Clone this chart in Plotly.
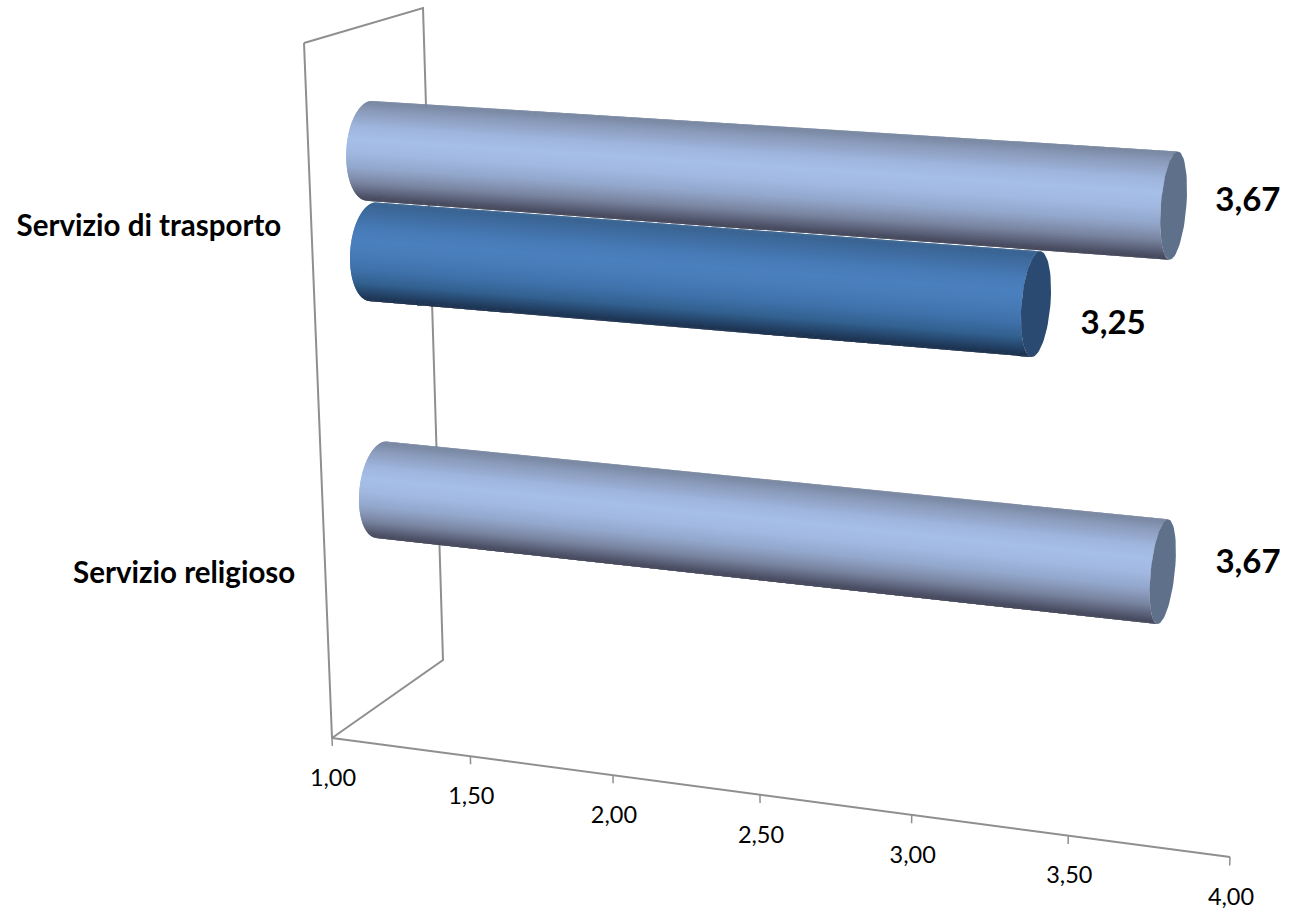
import numpy as np
import plotly.graph_objects as go

# ---- data ----
categories = ["Servizio religioso", "Servizio di trasporto"]
series_light = [3.67, 3.67]
series_dark = [None, 3.25]
tick_values = [1.0, 1.5, 2.0, 2.5, 3.0, 3.5, 4.0]
axis_min, axis_max = 1.0, 4.0

# ---- view: projective map of the 3D chart box onto the page ----
W, H = 1289, 910
O = np.array([332.0, 738.0])
A = np.array([1230.0, 857.0])
B = np.array([443.0, 660.0])
C = np.array([304.0, 43.0])
E = np.array([423.0, 8.0])
ka = -0.0893
M = np.array([[B[0]-E[0], C[0]-E[0]], [B[1]-E[1], C[1]-E[1]]])
kb, kc = np.linalg.solve(M, O + E - B - C)
Av = A*(1+ka) - O
Bv = B*(1+kb) - O
Cv = C*(1+kc) - O


def project(value, w, h):
    u = (np.asarray(value, float) - axis_min)/(axis_max - axis_min)
    w = np.asarray(w, float)
    h = np.asarray(h, float)
    d = 1 + ka*u + kb*w + kc*h
    return ((O[0] + Av[0]*u + Bv[0]*w + Cv[0]*h)/d,
            (O[1] + Av[1]*u + Bv[1]*w + Cv[1]*h)/d)


RW, RH = 0.20, 0.0705
LIGHT = dict(stops=[(0, "#77859f"), (.1, "#8b9cbc"), (.25, "#9fb5dd"), (.37, "#a6bfe8"),
                    (.5, "#a2b9e1"), (.65, "#93a7cc"), (.8, "#7a86a2"), (.9, "#5d637b"),
                    (1, "#3e4154")], cap="#5f708a")
DARK = dict(stops=[(0, "#38628f"), (.1, "#3f6ca0"), (.25, "#477ab6"), (.37, "#4a80bf"),
                   (.5, "#487cb9"), (.65, "#4072ab"), (.8, "#326090"), (.9, "#26466c"),
                   (1, "#182c47")], cap="#2a4a72")


def colour(t, stops):
    xs = [s[0] for s in stops]
    rgb = [[int(s[1][i:i+2], 16) for s in stops] for i in (1, 3, 5)]
    return "rgb(%d,%d,%d)" % tuple(round(float(np.interp(t, xs, c))) for c in rgb)


fig = go.Figure()


def poly(xs, ys, color):
    fig.add_trace(go.Scatter(x=xs, y=ys, mode="lines", fill="toself", fillcolor=color,
                             line=dict(color=color, width=0), hoverinfo="skip"))


def line(xs, ys, color="#8f8f8f", width=2):
    fig.add_trace(go.Scatter(x=xs, y=ys, mode="lines", line=dict(color=color, width=width),
                             hoverinfo="skip"))


def top_silhouette(value, h0):
    th = np.linspace(0, np.pi, 721)
    _, y = project(value, 0.5 + RW*np.cos(th), h0 + RH*np.sin(th))
    return th[int(np.argmin(y))]


def cylinder(value, h0, style):
    n = 80
    t0, t1 = top_silhouette(axis_min, h0), top_silhouette(value, h0)
    for i in range(n):
        a = np.linspace(i, min(i + 2, n), 4)/n*np.pi
        th0, th1 = t0 + a, t1 + a
        x0, y0 = project(axis_min, 0.5 + RW*np.cos(th0), h0 + RH*np.sin(th0))
        x1, y1 = project(value, 0.5 + RW*np.cos(th1), h0 + RH*np.sin(th1))
        poly(np.r_[x0, x1[::-1], x0[0]].tolist(), np.r_[y0, y1[::-1], y0[0]].tolist(),
             colour((1 - np.cos((i + .5)/n*np.pi))/2, style["stops"]))
    th = np.linspace(0, 2*np.pi, 73)
    x, y = project(value, 0.5 + RW*np.cos(th), h0 + RH*np.sin(th))
    poly(x.tolist(), y.tolist(), style["cap"])


# ---- walls and axis ----
wall = [(1, 0, 1), (1, 1, 1), (1, 1, 0), (1, 0, 0), (1, 0, 1)]
x, y = project(*np.array(wall, float).T)
line(x.tolist(), y.tolist())
x, y = project([axis_min, axis_max], [0, 0], [0, 0])
line(x.tolist(), y.tolist())
for v in tick_values:
    x, y = project([v, v], [0, 0], [0, -0.012])
    line(x.tolist(), y.tolist(), width=1.5)

# ---- bars ----
OFFSET = 0.073
SHIFT = -0.002
for i, cat in enumerate(categories):
    centre = (i + 0.5)/len(categories) + SHIFT
    if series_dark[i] is not None:
        cylinder(series_dark[i], centre - OFFSET, DARK)
    if series_light[i] is not None:
        cylinder(series_light[i], centre + OFFSET, LIGHT)

# ---- text ----
label_font = dict(family="Lato, 'Open Sans', sans-serif", color="#000000")
tx, ty = project(tick_values, [0]*7, [0]*7)
fig.add_trace(go.Scatter(x=(tx + 1).tolist(), y=(ty + 42).tolist(), mode="text",
                         text=[f"{v:.2f}".replace(".", ",") for v in tick_values],
                         textposition="middle center", cliponaxis=False,
                         textfont=dict(size=23.5, **label_font), hoverinfo="skip"))
cx, cy = project([axis_min]*2, [0, 0], [(i + .5)/2 for i in range(2)])
fig.add_trace(go.Scatter(x=(cx - 30).tolist(), y=(cy + 4).tolist(), mode="text", text=categories,
                         textposition="middle left", cliponaxis=False,
                         textfont=dict(size=29.5, weight="bold", **label_font), hoverinfo="skip"))
vals = [(series_light[1], 0.75 + OFFSET, 74, -1), (series_dark[1], 0.75 - OFFSET, 77, 23),
        (series_light[0], 0.25 + OFFSET, 85, -5)]
for v, h0, dx, dy in vals:
    px, py = project(v, 0.5, h0)
    fig.add_trace(go.Scatter(x=[float(px) + dx], y=[float(py) + dy], mode="text",
                             text=[f"{v:.2f}".replace(".", ",")],
                             textposition="middle center", cliponaxis=False,
                             textfont=dict(size=33, weight="bold", **label_font), hoverinfo="skip"))

fig.update_layout(
    width=W, height=H, margin=dict(l=0, r=0, t=0, b=0), showlegend=False,
    paper_bgcolor="white", plot_bgcolor="white",
    xaxis=dict(range=[0, W], visible=False, fixedrange=True),
    yaxis=dict(range=[H, 0], visible=False, fixedrange=True),
)
fig.write_html("out.html", config=dict(displayModeBar=False),
               post_script="document.body.style.margin='0';document.documentElement.style.overflow='hidden';")
